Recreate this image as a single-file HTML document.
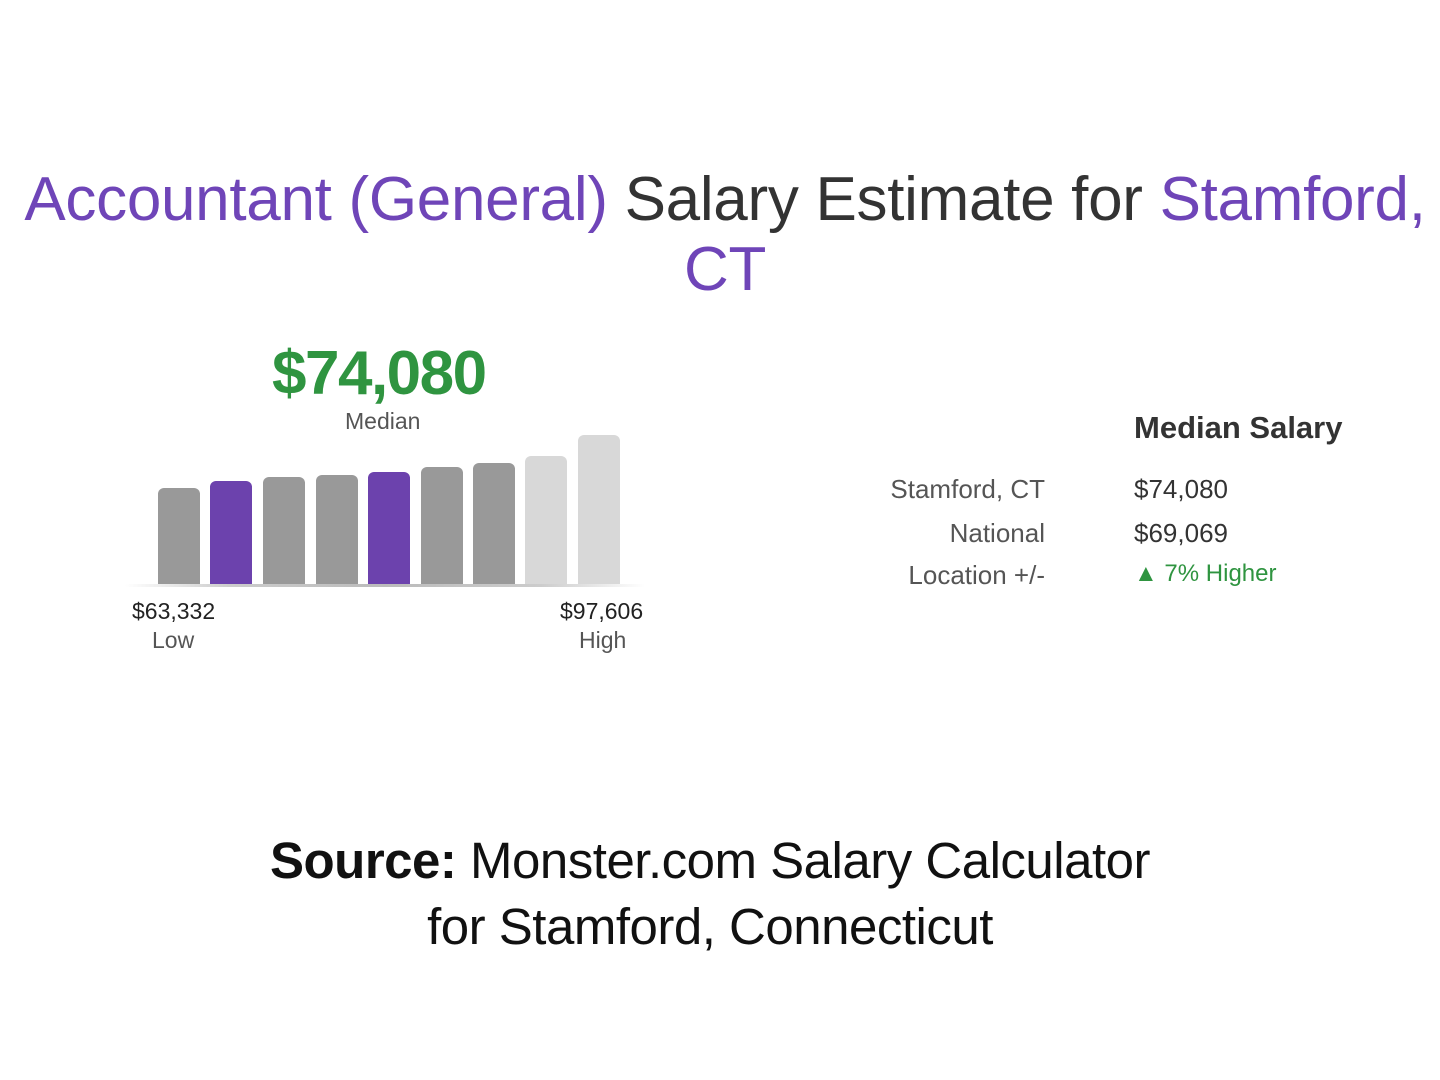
<!DOCTYPE html>
<html><head><meta charset="utf-8"><style>
body{margin:0;width:1440px;height:1080px;background:#fff;position:relative;overflow:hidden;font-family:"Liberation Sans",sans-serif}
.a{position:absolute;white-space:nowrap}
.p{color:#6f45b8}
.bar{position:absolute;width:42px;bottom:496px;border-radius:6px 6px 0 0}
.g{background:#999}.v{background:#6c42ad}.l{background:#d8d8d8}
</style></head><body>
<div class="a" style="left:5px;width:1440px;top:165px;text-align:center;font-size:62px;color:#333;line-height:70px;letter-spacing:-0.3px"><span class="p">Accountant (General)</span> Salary Estimate for <span class="p">Stamford,</span><br><span class="p">CT</span></div>
<div class="a" style="left:272px;top:338px;font-size:62px;font-weight:bold;color:#2f9440;letter-spacing:-1.5px">$74,080</div>
<div class="a" style="left:345px;top:408px;font-size:23px;color:#555">Median</div>
<div class="bar g" style="left:158px;height:96px"></div>
<div class="bar v" style="left:210px;height:103px"></div>
<div class="bar g" style="left:263px;height:107px"></div>
<div class="bar g" style="left:316px;height:109px"></div>
<div class="bar v" style="left:368px;height:112px"></div>
<div class="bar g" style="left:421px;height:117px"></div>
<div class="bar g" style="left:473px;height:121px"></div>
<div class="bar l" style="left:525px;height:128px"></div>
<div class="bar l" style="left:578px;height:149px"></div>
<div class="a" style="left:125px;top:584px;width:520px;height:3px;background:linear-gradient(90deg,#fff,#ccc 20%,#bbb 50%,#ccc 80%,#fff)"></div>
<div class="a" style="left:132px;top:598px;font-size:23px;color:#222">$63,332</div>
<div class="a" style="left:152px;top:627px;font-size:23px;color:#555">Low</div>
<div class="a" style="left:560px;top:598px;font-size:23px;color:#222">$97,606</div>
<div class="a" style="left:579px;top:627px;font-size:23px;color:#555">High</div>
<div class="a" style="left:1134px;top:410px;font-size:31px;font-weight:bold;color:#333">Median Salary</div>
<div class="a" style="left:845px;width:200px;text-align:right;top:474px;font-size:26px;color:#555">Stamford, CT</div>
<div class="a" style="left:845px;width:200px;text-align:right;top:518px;font-size:26px;color:#555">National</div>
<div class="a" style="left:845px;width:200px;text-align:right;top:560px;font-size:26px;color:#555">Location +/-</div>
<div class="a" style="left:1134px;top:474px;font-size:26px;color:#333">$74,080</div>
<div class="a" style="left:1134px;top:518px;font-size:26px;color:#333">$69,069</div>
<div class="a" style="left:1134px;top:560px;font-size:24px;color:#2f9440">▲ 7% Higher</div>
<div class="a" style="left:0;width:1420px;top:828px;text-align:center;font-size:51px;color:#111;line-height:66px;letter-spacing:-0.5px"><b>Source:</b> Monster.com Salary Calculator<br>for Stamford, Connecticut</div>
</body></html>
